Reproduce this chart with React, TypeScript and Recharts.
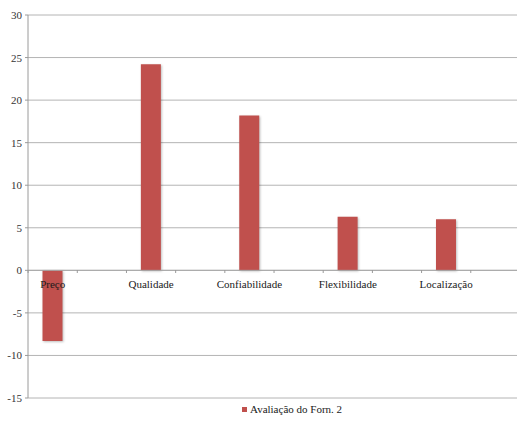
import React from "react";
import { BarChart, Bar, XAxis, YAxis, CartesianGrid, ReferenceLine, Legend } from "recharts";

const categories = ["Preço", "Qualidade", "Confiabilidade", "Flexibilidade", "Localização"];
const values = [-8.3, 24.2, 18.2, 6.3, 6.0];
const yTicks = [-15, -10, -5, 0, 5, 10, 15, 20, 25, 30];
const seriesName = "Avaliação do Forn. 2";

const data = categories.map((c, i) => ({ idx: i, name: c, value: values[i] }));

const FONT = "'Times New Roman', Tinos, 'Liberation Serif', 'DejaVu Serif', serif";
const BAR_COLOR = "#C0504D";
const ZERO_ABOVE_BOTTOM = 128; // distance from plot bottom to zero line (style offset)

const XTick = (props: any) => {
  const { x, y, payload } = props;
  const zy = y - ZERO_ABOVE_BOTTOM;
  const half = 24.6;
  return (
    <g>
      <line x1={x - half} x2={x - half} y1={zy} y2={zy + 3} stroke="#9a9a9a" />
      <line x1={x + half} x2={x + half} y1={zy} y2={zy + 3} stroke="#9a9a9a" />
      <text x={x} y={zy + 18} textAnchor="middle" style={{ fontFamily: FONT, fontSize: 11 }} fill="#1a1a1a">
        {categories[payload.value]}
      </text>
    </g>
  );
};

const YTick = (props: any) => {
  const { x, y, payload } = props;
  return (
    <text x={x} y={y + 4} textAnchor="end" style={{ fontFamily: FONT, fontSize: 11 }} fill="#333">
      {payload.value}
    </text>
  );
};

const LegendContent = () => (
  <div style={{ fontFamily: FONT, fontSize: 11, color: "#1a1a1a", display: "flex", alignItems: "center", whiteSpace: "nowrap" }}>
    <span style={{ display: "inline-block", width: 5, height: 5, background: BAR_COLOR, marginRight: 3 }} />
    <span>{seriesName}</span>
  </div>
);

export default function App() {
  return (
    <div style={{ position: "absolute", left: 0, top: 0 }}>
      <BarChart
        width={517}
        height={427}
        data={data}
        margin={{ top: 15, right: 0, bottom: 0, left: 0 }}
      >
        <CartesianGrid vertical={false} stroke="#b4b4b4" />
        <XAxis
          dataKey="idx"
          type="number"
          domain={[-0.251, 4.72]}
          ticks={[0, 1, 2, 3, 4]}
          height={29}
          axisLine={false}
          tickLine={false}
          tickSize={0}
          tickMargin={0}
          tick={<XTick />}
          interval={0}
          allowDataOverflow
        />
        <YAxis
          width={28}
          domain={[-15, 30]}
          ticks={yTicks}
          interval={0}
          stroke="#9a9a9a"
          tickSize={3}
          tickMargin={3}
          tick={<YTick />}
        />
        <ReferenceLine y={0} stroke="#a8a8a8" />
        <Legend
          layout="horizontal"
          verticalAlign="middle"
          content={<LegendContent />}
          wrapperStyle={{ top: 403, left: 242, width: "auto" }}
        />
        <Bar
          dataKey="value"
          name={seriesName}
          fill={BAR_COLOR}
          barSize={20}
          isAnimationActive={false}
          style={{ filter: "drop-shadow(1px 1px 1px rgba(0,0,0,0.25))" }}
        />
      </BarChart>
    </div>
  );
}
